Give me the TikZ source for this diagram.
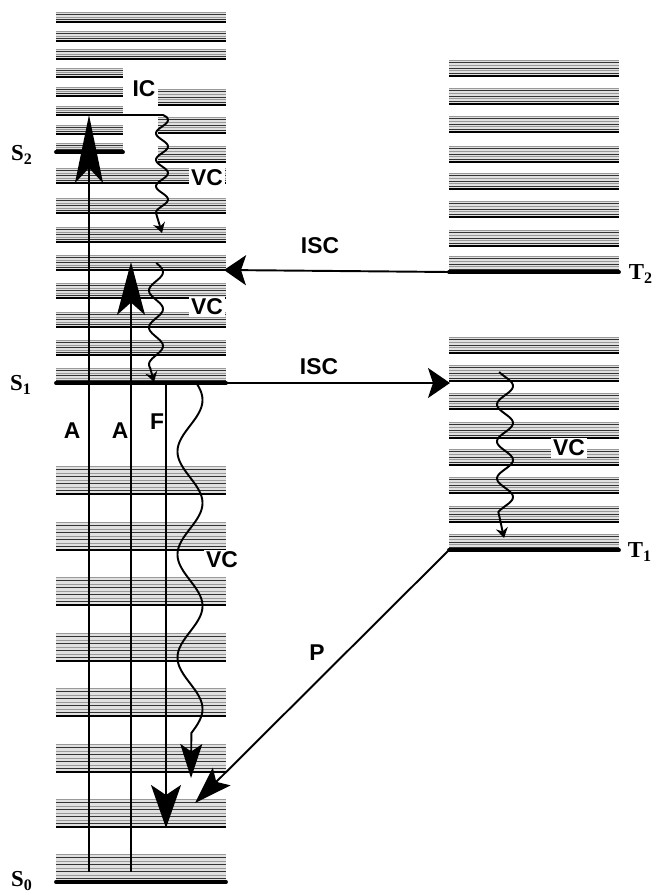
\documentclass[tikz,border=0pt]{standalone}
\usepackage{fontspec}
\setmainfont{Liberation Serif}
\setsansfont{Liberation Sans}
\usepackage{tikz}
\usetikzlibrary{arrows.meta}
\tikzset{
    linea_nivel/.style={line width=2.2pt, line cap=round},
    linea_banda/.style={line width=0.45pt},
    base_banda/.style={line width=1pt},
    flecha/.style={line width=1.1pt},
    onda/.style={line width=1.1pt},
    etiqueta/.style={font=\sffamily\bfseries\fontsize{13}{15}\selectfont, fill=white, inner sep=1.2pt},
    estado/.style={font=\bfseries\fontsize{13}{15}\selectfont}
}
% banda vibracional: x izq, x der, y base, alto, lineas
\newcommand{\banda}[5]{%
  \fill[black!12] (#1,{#3-#4}) rectangle (#2,#3);
  \foreach \k in {1,...,#5}{
    \pgfmathsetmacro\yy{#3-#4+(\k-1)*#4/#5}
    \ifodd\k \def\cc{black!40}\else \def\cc{black!80}\fi
    \draw[linea_banda, draw=\cc] (#1,\yy) -- (#2,\yy);
  }
  \draw[base_banda] (#1,#3) -- (#2,#3);
}

\begin{document}
\begin{tikzpicture}[x=0.02cm, y=-0.02cm]
\useasboundingbox (0,0) rectangle (661,895);

% pila singlete
\foreach \yb in {22,41,59} {\banda{56}{226}{\yb}{10}{4}}
\foreach \yb in {77,96,115,134,152} {\banda{56}{123}{\yb}{9}{4}}
\foreach \yb in {105,133,162} {\banda{158}{226}{\yb}{16}{6}}
\foreach \yb in {183,213,242,270,298,327,355,383} {\banda{56}{226}{\yb}{15}{6}}
\foreach \yb in {494,550,605,661,716,772,827,882} {\banda{56}{226}{\yb}{28}{8}}
% pila triplete
\foreach \yb in {76,104,132,162,189,217,246,272} {\banda{449}{619}{\yb}{16}{6}}
\foreach \yb in {353,381,409,438,465,493,522,550} {\banda{449}{619}{\yb}{16}{6}}

% etiquetas de procesos
\node[etiqueta] (ic) at (144,89) {IC};
\node[etiqueta] (vc1) at (207,178) {VC};
\node[etiqueta] (vc2) at (207,307) {VC};
\node[etiqueta] (vc3) at (222,560) {VC};
\node[etiqueta] (vc4) at (569,448) {VC};
\node[etiqueta] (isc1) at (320,246) {ISC};
\node[etiqueta] (isc2) at (319,367) {ISC};
\node[etiqueta] (a1) at (72,431) {A};
\node[etiqueta] (a2) at (120,431) {A};
\node[etiqueta] (f) at (157,422) {F};
\node[etiqueta] (p) at (317,653) {P};

% niveles electronicos
\draw[linea_nivel] (56,152) coordinate (S2i) -- (123,152) coordinate (S2d);
\draw[linea_nivel] (56,383) coordinate (S1i) -- (226,383) coordinate (S1d);
\draw[linea_nivel] (56,882) coordinate (S0i) -- (226,882) coordinate (S0d);
\draw[linea_nivel] (449,272) coordinate (T2i) -- (619,272) coordinate (T2d);
\draw[linea_nivel] (449,550) coordinate (T1i) -- (619,550) coordinate (T1d);

\node[estado] (s2) at (22,155) {S\textsubscript{2}};
\node[estado] (s1) at (21,385) {S\textsubscript{1}};
\node[estado] (s0) at (22,881) {S\textsubscript{0}};
\node[estado] (t2) at (641,274) {T\textsubscript{2}};
\node[estado] (t1) at (640,552) {T\textsubscript{1}};

% absorcion y fluorescencia
\coordinate (A1b) at (89,872);  \coordinate (A1t) at (89,115);
\coordinate (A2b) at (131,872); \coordinate (A2t) at (131,262);
\coordinate (Fi) at (166,383);  \coordinate (Ff) at (166,828);
\draw[flecha, -{Stealth[length=1.36cm, width=0.56cm, inset=0.3cm]}] (A1b) -- (A1t);
\draw[flecha, -{Stealth[length=1.06cm, width=0.56cm, inset=0.25cm]}] (A2b) -- (A2t);
\draw[flecha, -{Stealth[length=0.86cm, width=0.6cm, inset=0.2cm]}] (Fi) -- (Ff);

% conversion interna y relajacion vibracional
\coordinate (ICg) at (163,115); \coordinate (ICf) at (162,233);
\draw[onda, -{Stealth[length=0.2cm, width=0.24cm]}] (A1t) -- (ICg)
    -- plot[domain=117:214, samples=80, variable=\t] ({162+6*cos(13.585*(\t-120))}, \t) -- (ICf);
\coordinate (VCf) at (154,382);
\draw[onda, -{Stealth[length=0.2cm, width=0.24cm]}]
    plot[domain=263:368, samples=80, variable=\t] ({156+7*cos(9.73*(\t-272))}, \t) -- (VCf);
\coordinate (VC3f) at (191,778);
\draw[onda, -{Stealth[length=0.68cm, width=0.44cm, inset=0.15cm]}]
    plot[domain=384:733, samples=200, variable=\t] ({190+12.5*cos(3.495*(\t-400))}, \t) -- (VC3f);
\coordinate (VC4f) at (504,538);
\draw[onda, -{Stealth[length=0.2cm, width=0.24cm]}]
    plot[domain=372:512, samples=100, variable=\t] ({505+8*cos(9.73*(\t-423))}, \t) -- (VC4f);

% cruce entre sistemas y fosforescencia
\coordinate (ISCf) at (224,270);
\draw[flecha, -{Stealth[length=0.44cm, width=0.6cm, inset=0.1cm]}] (T2i) -- (ISCf);
\coordinate (ISC2f) at (450,383);
\draw[flecha, -{Stealth[length=0.44cm, width=0.6cm, inset=0.1cm]}] (S1d) -- (ISC2f);
\coordinate (Pf) at (195,803);
\draw[flecha, -{Stealth[length=0.75cm, width=0.5cm, inset=0.15cm]}] (T1i) -- (Pf);
\end{tikzpicture}
\end{document}
